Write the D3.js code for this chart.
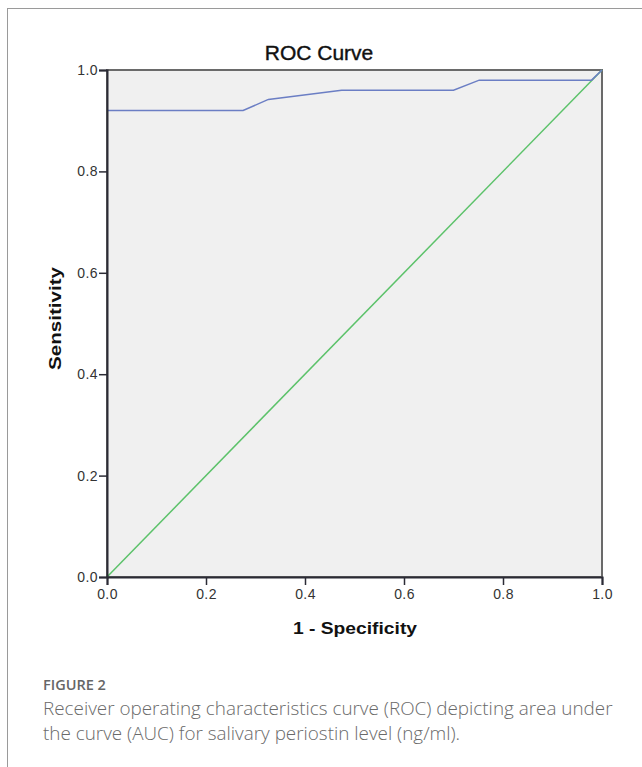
<!DOCTYPE html>
<html><head><meta charset="utf-8">
<script src="https://cdn.jsdelivr.net/npm/d3@7/dist/d3.min.js"></script>
<style>body{margin:0;background:#fff;} svg{display:block;}</style>
</head><body>
<svg id="chart" width="642" height="767"></svg>
<script>
// Data
const rocFpr  = [0, 0.275, 0.326, 0.474, 0.70, 0.752, 0.979, 1.0];
const rocTpr  = [0.92, 0.92, 0.942, 0.96, 0.96, 0.98, 0.98, 1.0];
const refFpr  = [0, 1];
const refTpr  = [0, 1];
const xTicks = [0, 0.2, 0.4, 0.6, 0.8, 1.0];
const yTicks = [0, 0.2, 0.4, 0.6, 0.8, 1.0];
const titleText = "ROC Curve";
const xLabel = "1 - Specificity";
const yLabel = "Sensitivity";
const figLabel = "FIGURE 2";
const captionLines = ["Receiver operating characteristics curve (ROC) depicting area under",
                      "the curve (AUC) for salivary periostin level (ng/ml)."];

const svg = d3.select("#chart");
// outer frame
svg.append("rect").attr("x",7.5).attr("y",8.5).attr("width",700).attr("height",800)
  .attr("fill","none").attr("stroke","#9a9a9a").attr("stroke-width",1);

const L=107,R=602,T=70,B=577;
const x = d3.scaleLinear().domain([0,1]).range([L,R]);
const y = d3.scaleLinear().domain([0,1]).range([B,T]);

svg.append("rect").attr("x",L).attr("y",T).attr("width",R-L).attr("height",B-T)
  .attr("fill","#f0f0f0").attr("stroke","#6a6a6a").attr("stroke-width",2);

const line = d3.line().x(d=>x(d[0])).y(d=>y(d[1]));
svg.append("path").datum(refFpr.map((v,i)=>[v,refTpr[i]])).attr("d",line)
  .attr("fill","none").attr("stroke","#5cc26a").attr("stroke-width",1.5);
svg.append("path").datum(rocFpr.map((v,i)=>[v,rocTpr[i]])).attr("d",line)
  .attr("fill","none").attr("stroke","#6b7ec4").attr("stroke-width",1.5);

const xAxis = d3.axisBottom(x).tickValues(xTicks).tickFormat(d3.format(".1f")).tickSize(8).tickPadding(4);
const gx = svg.append("g").attr("transform",`translate(0,${B})`).call(xAxis);
const yAxis = d3.axisLeft(y).tickValues(yTicks).tickFormat(d3.format(".1f")).tickSize(8).tickPadding(1);
const gy = svg.append("g").attr("transform",`translate(${L},0)`).call(yAxis);
[gx,gy].forEach(g=>{
  g.select(".domain").attr("stroke","#2b2b35").attr("stroke-width",2);
  g.selectAll(".tick line").attr("stroke","#2b2b35").attr("stroke-width",1.5);
  g.selectAll(".tick text").attr("fill","#333").style("font-family","'Liberation Sans',Arial,sans-serif")
   .style("font-size","14px").style("letter-spacing","0.4px");
});

svg.append("text").attr("x",319).attr("y",60).attr("text-anchor","middle")
  .style("font-family","'Liberation Sans',Arial,sans-serif").style("font-size","21px")
  .style("stroke","#111").style("stroke-width","0.4px")
  .attr("fill","#111").text(titleText);
svg.append("text").attr("x",355).attr("y",634).attr("text-anchor","middle")
  .style("font-family","'Liberation Sans',Arial,sans-serif").style("font-size","17px").style("font-weight","bold")
  .attr("textLength",124).attr("lengthAdjust","spacingAndGlyphs")
  .attr("fill","#111").text(xLabel);
svg.append("text").attr("transform","translate(61,318.5) rotate(-90)").attr("text-anchor","middle")
  .style("font-family","'Liberation Sans',Arial,sans-serif").style("font-size","17px").style("font-weight","bold")
  .attr("textLength",103).attr("lengthAdjust","spacingAndGlyphs")
  .attr("fill","#111").text(yLabel);

function fitWidth(sel, target){
  const w = sel.node().getComputedTextLength();
  const fs = parseFloat(sel.style("font-size"));
  sel.style("font-size", (fs*target/w).toFixed(2)+"px");
}
const fig = svg.append("text").attr("x",43).attr("y",690)
  .style("font-family","'Open Sans',sans-serif").style("font-size","14px").style("font-weight","600")
  .attr("fill","#666").text(figLabel);
fitWidth(fig, 63);
const cap = captionLines.map((t,i)=>svg.append("text").attr("x",43).attr("y",715+i*25)
    .style("font-family","'Open Sans',sans-serif").style("font-size","17px").style("font-weight","300")
    .attr("fill","#6a6a6a").text(t));
const w0 = cap[0].node().getComputedTextLength();
const fs = 17*570/w0;
cap.forEach(c=>c.style("font-size",fs.toFixed(2)+"px"));
</script>
</body></html>
